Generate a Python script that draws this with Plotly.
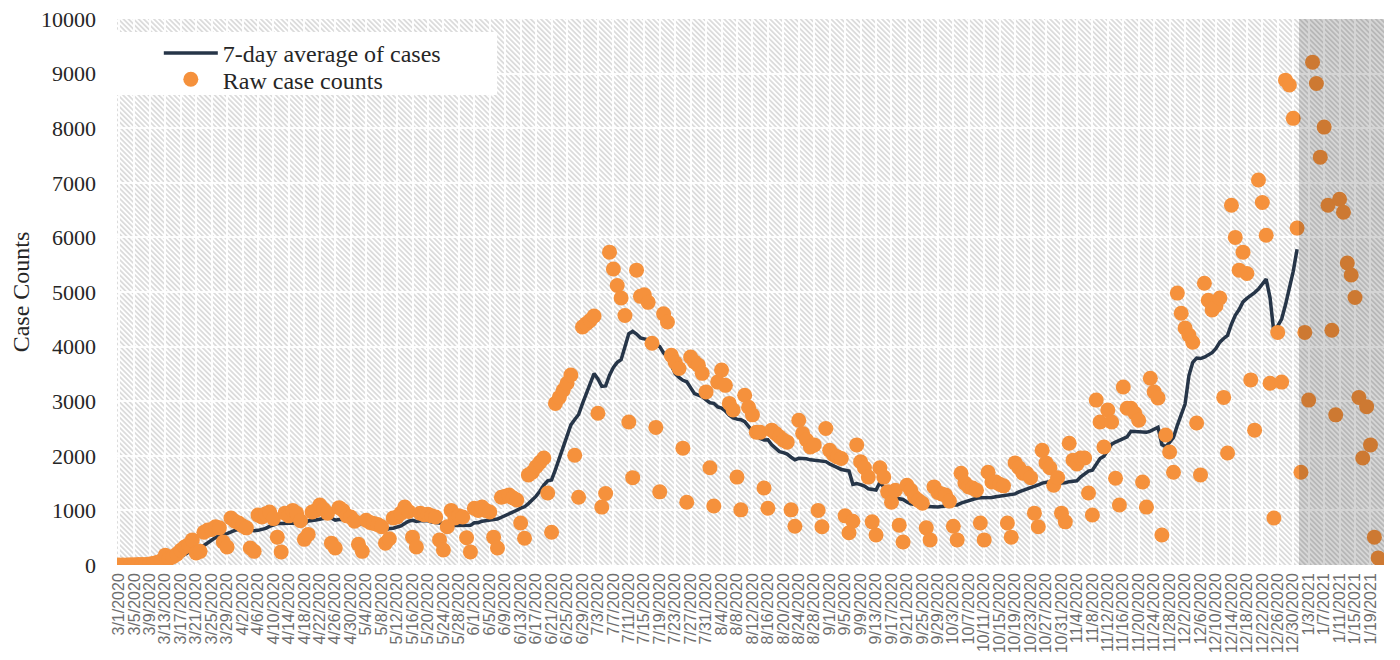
import base64
import pandas as pd
import plotly.graph_objects as go

# ---------------- data ----------------
START_DATE = "2020-03-01"

# Raw daily case counts, one row per week (Sun .. Sat)
RAW_CASES = [
    0, 1, 2, 4, 6, 10, 8,
    10, 20, 30, 50, 80, 180, 120,
    150, 200, 270, 330, 370, 460, 220,
    250, 600, 640, 650, 700, 680, 420,
    330, 860, 800, 770, 720, 680, 310,
    250, 915, 880, 940, 970, 850, 510,
    240, 950, 900, 1000, 950, 810, 470,
    560, 970, 1000, 1100, 1020, 950, 400,
    310, 1050, 1000, 900, 880, 800, 380,
    250, 820, 780, 760, 740, 700, 400,
    480, 860, 880, 950, 1060, 980, 510,
    330, 950, 920, 930, 900, 880, 460,
    275, 700, 1000, 860, 900, 880, 500,
    240, 1040, 1000, 1060, 1000, 970, 510,
    310, 1240, 1260, 1280, 1230, 1190, 770,
    490, 1650, 1700, 1800, 1880, 1960, 1320,
    600, 2960, 3070, 3200, 3330, 3480, 2010,
    1240, 4360, 4420, 4480, 4560, 2780, 1060,
    1310, 5730, 5420, 5120, 4890, 4570, 2620,
    1600, 5400, 4920, 4950, 4810, 4060, 2520,
    1340, 4600, 4450, 3840, 3710, 3600, 2140,
    1150, 3810, 3720, 3660, 3510, 3170, 1780,
    1080, 3350, 3570, 3290, 2960, 2840, 1610,
    1010, 3110, 2890, 2750, 2430, 2430, 1410,
    1040, 2470, 2410, 2350, 2290, 2250, 1010,
    710, 2650, 2410, 2290, 2160, 2200, 1000,
    700, 2500, 2100, 2020, 1980, 1950, 900,
    590, 800, 2200, 1890, 1780, 1610, 790,
    550, 1780, 1610, 1340, 1150, 1370, 730,
    420, 1460, 1370, 1240, 1180, 1130, 680,
    460, 1430, 1330, 1300, 1280, 1170, 710,
    460, 1680, 1500, 1430, 1410, 1370, 770,
    460, 1700, 1520, 1520, 1480, 1450, 770,
    510, 1870, 1780, 1680, 1680, 1600, 950,
    700, 2100, 1870, 1780, 1460, 1600, 950,
    790, 2230, 1920, 1850, 1960, 1960, 1320,
    915, 3020, 2620, 2160, 2840, 2620, 1590,
    1100, 3260, 2870, 2870, 2780, 2650, 1520,
    1060, 3420, 3170, 3060, 550, 2380, 2070,
    1700, 4980, 4610, 4340, 4210, 4080, 2600,
    1650, 5160, 4850, 4670, 4750, 4890, 3070,
    2050, 6590, 6000, 5400, 5730, 5340, 3390,
    2470, 7050, 6640, 6040, 3330, 860, 4260,
    3350, 8880, 8790, 8180, 6170, 1700, 4260,
    3020, 9210, 8820, 7470, 8020, 6590, 4300,
    2750, 6700, 6460, 5530, 5310, 4900, 3070,
    1960, 2900, 2200, 510, 130, 0,
]

# 7-day average line (starts 3/7/2020, ends 12/31/2020)
AVG_START_DATE = "2020-03-07"
AVG_7DAY = [
    4,
    6, 9, 13, 19, 30, 54, 70,
    90, 116, 150, 190, 231, 271, 286,
    300, 357, 410, 456, 503, 534, 563,
    574, 611, 634, 651, 654, 654, 639,
    627, 635, 646, 671, 706, 731, 759,
    758, 763, 766, 774, 771, 766, 760,
    806, 809, 823, 837, 847, 867, 857,
    821, 833, 833, 804, 784, 763, 760,
    751, 719, 687, 667, 647, 633, 636,
    669, 674, 689, 716, 761, 801, 817,
    796, 809, 814, 811, 789, 774, 767,
    759, 724, 735, 725, 725, 725, 731,
    726, 774, 774, 803, 817, 830, 831,
    841, 870, 907, 939, 971, 1003, 1040,
    1066, 1124, 1187, 1261, 1354, 1464, 1543,
    1559, 1746, 1941, 2141, 2349, 2566, 2664,
    2756, 2956, 3149, 3331, 3507, 3407, 3271,
    3281, 3477, 3620, 3711, 3759, 4014, 4237,
    4279, 4231, 4160, 4136, 4124, 4051, 4037,
    4000, 3886, 3819, 3660, 3503, 3437, 3383,
    3356, 3243, 3139, 3113, 3084, 3023, 2971,
    2961, 2896, 2874, 2821, 2743, 2696, 2671,
    2661, 2627, 2530, 2453, 2377, 2319, 2290,
    2294, 2203, 2134, 2077, 2057, 2031, 1974,
    1927, 1953, 1953, 1944, 1926, 1919, 1917,
    1916, 1894, 1850, 1811, 1786, 1750, 1736,
    1720, 1477, 1491, 1473, 1444, 1396, 1380,
    1374, 1514, 1430, 1351, 1261, 1227, 1219,
    1200, 1154, 1120, 1106, 1110, 1076, 1069,
    1074, 1070, 1064, 1073, 1087, 1093, 1097,
    1097, 1133, 1157, 1176, 1194, 1223, 1231,
    1231, 1234, 1237, 1250, 1260, 1271, 1271,
    1279, 1303, 1340, 1363, 1391, 1413, 1439,
    1466, 1499, 1511, 1526, 1494, 1494, 1494,
    1507, 1526, 1533, 1543, 1614, 1666, 1719,
    1736, 1849, 1949, 1994, 2119, 2214, 2252,
    2279, 2313, 2349, 2450, 2441, 2446, 2436,
    2430, 2453, 2496, 2523, 2204, 2166, 2244,
    2336, 2559, 2764, 2947, 3470, 3713, 3789,
    3781, 3807, 3841, 3889, 3966, 4081, 4149,
    4206, 4410, 4574, 4679, 4819, 4883, 4929,
    4989, 5054, 5146, 5237, 4894, 4254, 4379,
    4504, 4766, 5073, 5379, 5784,
]

LINE_NAME = "7-day average of cases"
DOT_NAME = "Raw case counts"
Y_TITLE = "Case Counts"
Y_MAX = 10000
Y_STEP = 1000
TICK_EVERY_DAYS = 4

# ---------------- figure ----------------
dates = pd.date_range(START_DATE, periods=len(RAW_CASES), freq="D")
avg_dates = pd.date_range(AVG_START_DATE, periods=len(AVG_7DAY), freq="D")
half_day = pd.Timedelta(hours=12)
x_range = [dates[0] - half_day, dates[-1] + half_day]
shade_start = avg_dates[-1] + half_day

# page body has an 8px margin: size the figure so the plot area lands at 117..1384 x 19..565
W, H = 1392, 652
M = dict(l=109, r=16, t=11, b=95)
PW, PH = W - M["l"] - M["r"], H - M["t"] - M["b"]

# diagonal hatch background for the plot area
svg = (
    f'<svg xmlns="http://www.w3.org/2000/svg" width="{PW}" height="{PH}" '
    f'viewBox="0 0 {PW} {PH}" preserveAspectRatio="none">'
    '<defs><pattern id="h" width="3.6" height="10" patternUnits="userSpaceOnUse" '
    'patternTransform="rotate(-45)">'
    '<rect width="3.6" height="10" fill="#ffffff"/>'
    '<line x1="0.9" y1="0" x2="0.9" y2="10" stroke="#cacaca" stroke-width="1.2"/>'
    '</pattern></defs>'
    f'<rect width="{PW}" height="{PH}" fill="url(#h)"/></svg>'
)
hatch_src = "data:image/svg+xml;base64," + base64.b64encode(svg.encode()).decode()

fig = go.Figure()
fig.add_trace(go.Scatter(
    x=avg_dates, y=AVG_7DAY, mode="lines", name=LINE_NAME, legend="legend",
    line=dict(color="#263548", width=3.5),
))
fig.add_trace(go.Scatter(
    x=dates, y=RAW_CASES, mode="markers", name=DOT_NAME, legend="legend2",
    marker=dict(color="#F5913C", size=15, line=dict(width=0)),
))

fig.add_layout_image(dict(
    source=hatch_src, xref="paper", yref="paper", x=0, y=1,
    sizex=1, sizey=1, xanchor="left", yanchor="top",
    sizing="stretch", layer="below",
))

# shaded (incomplete data) region after the last 7-day average value
fig.add_shape(type="rect", xref="x", yref="y",
              x0=shade_start, x1=x_range[1], y0=0, y1=Y_MAX,
              fillcolor="rgba(0,0,0,0.16)", line=dict(width=0), layer="above")
# white legend panel
fig.add_shape(type="rect", xref="paper", yref="paper",
              x0=0, x1=0.3, y0=0.861, y1=0.976,
              fillcolor="white", line=dict(width=0), layer="above")

legend_font = dict(family="Liberation Serif, Times New Roman, serif", size=24, color="#262626")
fig.update_layout(
    width=W, height=H, margin=M,
    paper_bgcolor="white", plot_bgcolor="white",
    showlegend=True,
    legend=dict(x=0.033, y=0.978, xanchor="left", yanchor="top", itemwidth=54,
                bgcolor="rgba(0,0,0,0)", borderwidth=0, font=legend_font),
    legend2=dict(x=0.033, y=0.930, xanchor="left", yanchor="top", itemwidth=54,
                 bgcolor="rgba(0,0,0,0)", borderwidth=0, font=legend_font),
    font=dict(family="Liberation Serif, serif"),
)

fig.update_xaxes(
    type="date", range=x_range, automargin=False, ticklabeloverflow="allow",
    tick0=START_DATE, dtick=TICK_EVERY_DAYS * 86400000,
    tickformat="%-m/%-d/%Y", tickangle=-90,
    tickfont=dict(family="Liberation Sans, Arial, sans-serif", size=16, color="#6e6e6e"),
    showgrid=True, gridcolor="rgba(255,255,255,0.9)", gridwidth=1.5,
    showline=False, zeroline=False, ticks="", ticklabelstandoff=4,
)
fig.update_yaxes(
    range=[0, Y_MAX], dtick=Y_STEP, tick0=0, tickformat="d", automargin=False,
    ticklabeloverflow="allow",
    tickfont=dict(family="Liberation Serif, Times New Roman, serif", size=22, color="#262626"),
    title=dict(text=Y_TITLE, standoff=12,
               font=dict(family="Liberation Serif, Times New Roman, serif", size=24, color="#262626")),
    showgrid=True, gridcolor="rgba(255,255,255,0.9)", gridwidth=1.5,
    showline=False, zeroline=False, ticks="", ticklabelstandoff=20,
)

fig.write_html("out.html")
